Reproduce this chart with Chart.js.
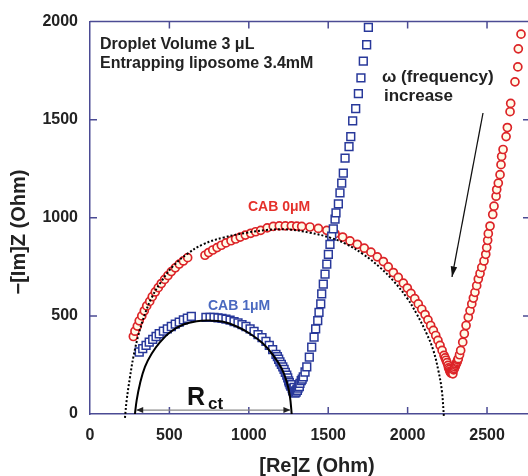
<!DOCTYPE html>
<html>
<head>
<meta charset="utf-8">
<script src="https://cdn.jsdelivr.net/npm/chart.js@4.4.1/dist/chart.umd.min.js"></script>
<style>
  html, body { margin: 0; padding: 0; background: #fff; overflow: hidden; }
  canvas { display: block; }
</style>
</head>
<body>
<canvas id="nyquist" width="528" height="476"></canvas>
<script>
// CAB 0uM (red circles)
const redRe = [273, 283, 298, 310, 326, 342, 357, 376, 392, 411, 430, 449, 470, 491, 512, 537, 562, 588, 615,
  724, 747, 773, 800, 827, 856, 888, 917, 946, 978, 1012, 1043, 1075, 1116, 1154, 1192, 1230, 1268, 1302,
  1333, 1385, 1438, 1491, 1543, 1591, 1637, 1683, 1727, 1769, 1809, 1847, 1878, 1910, 1941, 1973, 1998,
  2021, 2045, 2067, 2089, 2110, 2128, 2145, 2162, 2177, 2191, 2204, 2217, 2229, 2236, 2242, 2248, 2254,
  2258, 2263, 2266, 2270, 2273, 2276, 2280, 2285, 2290, 2294, 2298, 2302, 2305, 2310, 2312, 2316, 2319,
  2327, 2334, 2347, 2357, 2368, 2382, 2393, 2404, 2414,
  2424, 2435, 2445, 2456, 2467, 2481, 2492, 2498, 2504, 2508, 2519, 2536, 2544, 2557, 2561, 2571, 2582,
  2588, 2592, 2601, 2620, 2628, 2645, 2649, 2676, 2694, 2697, 2714];
const redIm = [395, 422, 448, 475, 500, 526, 551, 574, 598, 622, 644, 665, 686, 706, 726, 745, 764, 780, 797,
  809, 823, 836, 848, 860, 872, 883, 892, 902, 912, 921, 929, 936, 949, 956, 959, 959, 959, 958,
  956, 953, 946, 936, 919, 902, 882, 865, 845, 825, 801, 777, 750, 721, 696, 667, 642,
  615, 588, 561, 534, 507, 480, 451, 426, 400, 375, 350, 324, 299, 286, 274, 262, 248,
  235, 227, 218, 214, 208, 210, 212, 205, 225, 232, 240, 248, 255, 262, 268, 276, 282,
  302, 324, 366, 409, 451, 493, 527, 561, 591,
  620, 654, 688, 716, 747, 780, 814, 848, 885, 919, 958, 1017, 1059, 1110, 1144, 1177, 1220,
  1271, 1313, 1348, 1414, 1460, 1541, 1583, 1693, 1769, 1861, 1936];

// CAB 1uM (blue squares)
const blueRe = [310, 332, 353, 373, 395, 416, 436, 462, 487, 512, 537, 562, 588, 613, 638,
  730, 756, 781, 806, 831, 856, 882, 907, 932, 957, 982, 1008, 1033, 1058, 1083, 1108, 1129, 1150,
  1171, 1180, 1188, 1196, 1205, 1214, 1222, 1230, 1239, 1245, 1251, 1255, 1260, 1264, 1270, 1273,
  1276, 1280, 1285, 1288, 1291, 1295, 1298, 1303, 1306, 1310, 1315, 1318, 1322, 1330, 1336, 1343,
  1354, 1365, 1381, 1396, 1411, 1421, 1434, 1442, 1453, 1459, 1469, 1480, 1491,
  1501, 1511, 1522, 1532, 1543, 1549, 1564, 1574, 1585, 1595, 1606, 1631, 1642, 1654, 1673, 1690,
  1706, 1721, 1742, 1753];
const blueIm = [316, 333, 350, 366, 380, 395, 409, 422, 434, 446, 458, 468, 480, 488, 498,
  493, 493, 492, 490, 487, 483, 478, 471, 465, 456, 446, 434, 421, 405, 389, 370, 350, 328,
  304, 292, 279, 266, 253, 240, 227, 212, 198, 184, 169, 160, 150, 142, 150, 130,
  118, 125, 135, 112, 106, 118, 112, 125, 120, 132, 145, 140, 156, 170, 178, 189,
  214, 240, 290, 341, 392, 434, 476, 518, 561, 612, 662, 713, 764,
  814, 865, 907, 943, 993, 1025, 1071, 1127, 1177, 1228, 1304, 1363, 1414, 1494, 1557, 1633,
  1713, 1798, 1882, 1971];

// fitted semicircles
const fit0Re = [220, 231, 252, 273, 304, 346, 389, 452, 525, 609, 713, 839, 987, 1113, 1239, 1385, 1511,
  1616, 1721, 1826, 1910, 1994, 2057, 2120, 2162, 2193, 2215, 2229];
const fit0Im = [-20, 71, 189, 290, 400, 510, 594, 679, 755, 814, 865, 899, 924, 938, 941, 924, 899,
  865, 814, 747, 679, 594, 510, 409, 324, 223, 122, -20];
const fit1Re = [283, 294, 315, 346, 389, 441, 504, 588, 672, 756, 839, 924, 1008, 1091, 1154, 1207, 1239, 1259, 1270];
const fit1Im = [0, 71, 156, 240, 308, 366, 417, 456, 473, 476, 470, 446, 409, 358, 299, 232, 164, 88, 0];

const xTicks = [0, 500, 1000, 1500, 2000, 2500];
const yTicks = [0, 500, 1000, 1500, 2000];

const pts = (xs, ys) => xs.map((x, i) => ({ x: x, y: ys[i] }));
const AXIS = '#4b4b94';
const FONT = '"Liberation Sans", Arial, sans-serif';

const decor = {
  id: 'decor',
  afterDraw(chart) {
    const { ctx, chartArea: a, scales: { x, y } } = chart;
    ctx.save();
    // frame top + inward ticks
    ctx.strokeStyle = AXIS;
    ctx.lineWidth = 1.5;
    ctx.beginPath();
    ctx.moveTo(a.left, a.top); ctx.lineTo(a.right, a.top);
    xTicks.forEach(v => {
      const px = x.getPixelForValue(v);
      if (v === 0) return;
      ctx.moveTo(px, a.bottom); ctx.lineTo(px, a.bottom - 7);
      ctx.moveTo(px, a.top); ctx.lineTo(px, a.top + 7);
    });
    yTicks.forEach(v => {
      const py = y.getPixelForValue(v);
      if (v === 0 || v === 2000) return;
      ctx.moveTo(a.left, py); ctx.lineTo(a.left + 7, py);
      ctx.moveTo(a.right, py); ctx.lineTo(a.right - 5, py);
    });
    ctx.stroke();

    // R_ct double arrow
    const ay = y.getPixelForValue(20);
    const ax0 = x.getPixelForValue(fit1Re[0] + 8), ax1 = x.getPixelForValue(fit1Re[fit1Re.length - 1] - 8);
    ctx.strokeStyle = '#888';
    ctx.lineWidth = 1.2;
    ctx.beginPath(); ctx.moveTo(ax0, ay); ctx.lineTo(ax1, ay); ctx.stroke();
    ctx.fillStyle = '#222';
    ctx.beginPath();
    ctx.moveTo(ax0, ay); ctx.lineTo(ax0 + 7, ay - 3); ctx.lineTo(ax0 + 7, ay + 3); ctx.closePath();
    ctx.moveTo(ax1, ay); ctx.lineTo(ax1 - 7, ay - 3); ctx.lineTo(ax1 - 7, ay + 3); ctx.closePath();
    ctx.fill();

    // frequency arrow
    const fx0 = 483, fy0 = 113, fx1 = 452, fy1 = 277;
    ctx.strokeStyle = '#111';
    ctx.lineWidth = 1.3;
    ctx.beginPath(); ctx.moveTo(fx0, fy0); ctx.lineTo(fx1, fy1); ctx.stroke();
    const ang = Math.atan2(fy1 - fy0, fx1 - fx0);
    ctx.fillStyle = '#111';
    ctx.beginPath();
    ctx.moveTo(fx1, fy1);
    ctx.lineTo(fx1 - 11 * Math.cos(ang - 0.3), fy1 - 11 * Math.sin(ang - 0.3));
    ctx.lineTo(fx1 - 11 * Math.cos(ang + 0.3), fy1 - 11 * Math.sin(ang + 0.3));
    ctx.closePath(); ctx.fill();

    // texts
    ctx.textBaseline = 'alphabetic';
    ctx.textAlign = 'left';
    ctx.fillStyle = '#222';
    ctx.font = 'bold 16px ' + FONT;
    ctx.fillText('Droplet Volume 3 \u03bcL', 100, 49);
    ctx.fillText('Entrapping liposome 3.4mM', 100, 68);
    ctx.font = 'bold 17px ' + FONT;
    ctx.fillText('\u03c9 (frequency)', 382, 82);
    ctx.fillText('increase', 384, 101);
    ctx.font = 'bold 14px ' + FONT;
    ctx.fillStyle = '#e5312b';
    ctx.fillText('CAB 0\u03bcM', 248, 211);
    ctx.fillStyle = '#4a69c0';
    ctx.fillText('CAB 1\u03bcM', 208, 310);
    ctx.fillStyle = '#111';
    ctx.font = 'bold 25px ' + FONT;
    ctx.fillText('R', 187, 405);
    ctx.font = 'bold 17px ' + FONT;
    ctx.fillText('ct', 208, 409);

    // axis titles
    ctx.fillStyle = '#222';
    ctx.font = 'bold 20px ' + FONT;
    ctx.textAlign = 'center';
    ctx.textBaseline = 'middle';
    ctx.fillText('[Re]Z (Ohm)', 317, 466);
    ctx.translate(19, 232);
    ctx.rotate(-Math.PI / 2);
    ctx.fillText('\u2212[Im]Z (Ohm)', 0, 0);
    ctx.restore();
  }
};

new Chart(document.getElementById('nyquist').getContext('2d'), {
  type: 'scatter',
  data: {
    datasets: [
      {
        label: 'fit 0',
        data: pts(fit0Re, fit0Im),
        showLine: true,
        pointRadius: 0,
        borderColor: '#000',
        borderWidth: 2,
        borderDash: [2, 2],
        tension: 0.4,
        clip: false,
        order: 0
      },
      {
        label: 'fit 1',
        data: pts(fit1Re, fit1Im),
        showLine: true,
        pointRadius: 0,
        borderColor: '#000',
        borderWidth: 2,
        tension: 0.4,
        clip: false,
        order: 0
      },
      {
        label: 'CAB 1uM',
        data: pts(blueRe, blueIm),
        pointStyle: 'rect',
        pointRadius: 5.5,
        borderColor: '#28389a',
        backgroundColor: '#ffffff',
        borderWidth: 1.5,
        order: 1
      },
      {
        label: 'CAB 0uM',
        data: pts(redRe, redIm),
        pointStyle: 'circle',
        pointRadius: 4,
        borderColor: '#dc2428',
        backgroundColor: '#fffbe8',
        borderWidth: 1.7,
        order: 2
      }
    ]
  },
  options: {
    responsive: false,
    animation: false,
    layout: { autoPadding: false, padding: { top: 20, right: 0, bottom: 0, left: 0 } },
    plugins: { legend: { display: false }, tooltip: { enabled: false } },
    scales: {
      x: {
        type: 'linear',
        min: 0,
        max: 2758,
        afterBuildTicks: s => { s.ticks = xTicks.map(v => ({ value: v })); },
        afterFit: s => { s.height = 62; s.paddingLeft = 0; s.paddingRight = 0; },
        grid: { drawOnChartArea: false, drawTicks: false },
        border: { color: AXIS, width: 1.5 },
        ticks: {
          padding: 12,
          color: '#222',
          font: { family: FONT, size: 16, weight: 'bold' },
          callback: v => String(v)
        }
      },
      y: {
        type: 'linear',
        min: 0,
        max: 2000,
        afterBuildTicks: s => { s.ticks = yTicks.map(v => ({ value: v })); },
        afterFit: s => { s.width = 90; },
        grid: { drawOnChartArea: false, drawTicks: false },
        border: { color: AXIS, width: 1.5 },
        ticks: {
          padding: 12,
          color: '#222',
          font: { family: FONT, size: 16, weight: 'bold' },
          callback: v => String(v)
        }
      }
    }
  },
  plugins: [decor]
});
</script>
</body>
</html>
